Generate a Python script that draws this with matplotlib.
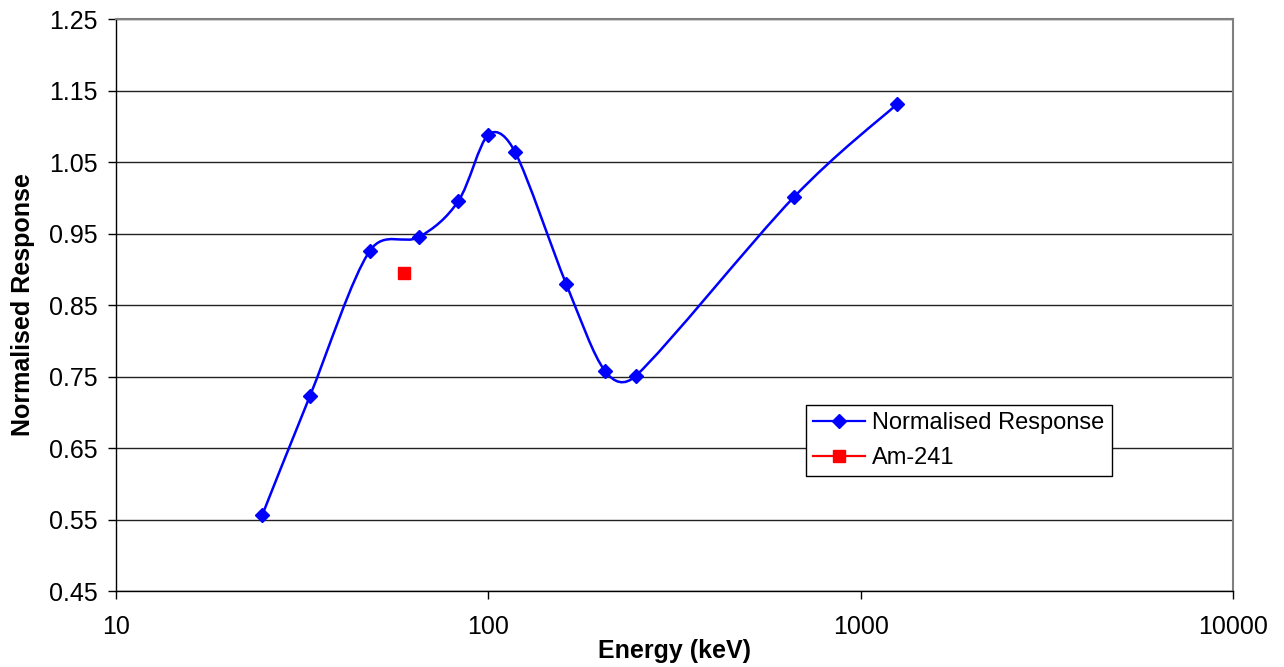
import numpy as np
import matplotlib
matplotlib.use("Agg")
import matplotlib.pyplot as plt
from matplotlib.path import Path
from matplotlib.patches import PathPatch

plt.rcParams['font.family'] = ['Liberation Sans', 'DejaVu Sans']

# data
energy = [24.7, 33.2, 48.1, 65.1, 83.0, 100.0, 118.0, 162.0, 205.6, 249.0, 662.0, 1253.0]
response = [0.556, 0.723, 0.926, 0.945, 0.995, 1.088, 1.064, 0.879, 0.758, 0.751, 1.001, 1.131]
am_energy = [59.5]
am_response = [0.895]

fig = plt.figure(figsize=(12.84, 6.67), dpi=100)
ax = fig.add_axes([0.0903, 0.1139, 0.87, 0.8576])
ax.set_xscale('log')
ax.set_xlim(10, 10000)
ax.set_ylim(0.45, 1.25)
yt = np.arange(0.45, 1.26, 0.1)
ax.set_yticks(yt)
ax.set_yticklabels([f"{v:.2f}" for v in yt])
ax.set_xticks([10, 100, 1000, 10000])
ax.set_xticklabels(['10', '100', '1000', '10000'])
ax.minorticks_off()
ax.grid(True, axis='y', color='#222222', linewidth=1)
ax.set_axisbelow(True)
for s in ['top', 'right']:
    ax.spines[s].set_color('#808080')
    ax.spines[s].set_linewidth(1.5)
for s in ['left', 'bottom']:
    ax.spines[s].set_color('black')
    ax.spines[s].set_linewidth(1)
ax.tick_params(axis='both', direction='out', length=6, width=1, labelsize=18)
ax.tick_params(axis='x', pad=11)
ax.tick_params(axis='y', pad=7)
ax.set_xlabel('Energy (keV)', fontsize=18, fontweight='bold', labelpad=0)
ax.set_ylabel('Normalised Response', fontsize=18, fontweight='bold', labelpad=10)


def excel_smooth(p):
    # bezier through the points in screen space, control arms capped at half a segment
    n = len(p)
    verts = [p[0]]
    codes = [Path.MOVETO]
    for i in range(n - 1):
        p0 = p[i - 1] if i > 0 else p[i]
        p1 = p[i]
        p2 = p[i + 1]
        p3 = p[i + 2] if i + 2 < n else p[i + 1]
        seg = np.linalg.norm(p2 - p1)
        t1 = (p2 - p0) / 6.0
        t2 = (p3 - p1) / 6.0
        if np.linalg.norm(t1) > seg / 2:
            t1 = t1 * (seg / 2) / np.linalg.norm(t1)
        if np.linalg.norm(t2) > seg / 2:
            t2 = t2 * (seg / 2) / np.linalg.norm(t2)
        verts += [p1 + t1, p2 - t2, p2]
        codes += [Path.CURVE4] * 3
    return Path(verts, codes)


pts = ax.transData.transform(np.column_stack([energy, response]))
ax.add_patch(PathPatch(excel_smooth(pts), transform=None, facecolor='none',
                       edgecolor='#0000FF', linewidth=1.8, zorder=3))

ax.plot(energy, response, linestyle='none', marker='D', markersize=7, color='#0000FF', zorder=4)
ax.plot(am_energy, am_response, linestyle='none', marker='s', markersize=8, color='#FF0000', zorder=4)

h1 = plt.Line2D([], [], color='#0000FF', linewidth=1.6, marker='D', markersize=7)
h2 = plt.Line2D([], [], color='#FF0000', linewidth=1.6, marker='s', markersize=8)
leg = ax.legend([h1, h2], ['Normalised Response', 'Am-241'], loc='lower left',
                bbox_to_anchor=(0.618, 0.201), fontsize=17, frameon=True, fancybox=False,
                edgecolor='black', framealpha=1, borderpad=0.3, handlelength=2.2,
                handletextpad=0.3, labelspacing=0.55, borderaxespad=0)
leg.get_frame().set_linewidth(1)

fig.savefig('out.png', dpi=100)
